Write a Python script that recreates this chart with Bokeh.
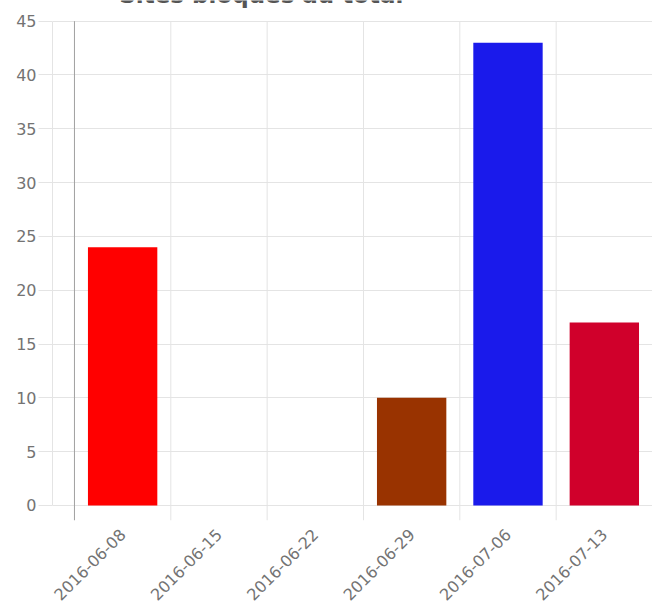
from bokeh.plotting import figure
from bokeh.models import Range1d, FixedTicker, Label, ColumnDataSource
from bokeh.embed import file_html
from bokeh.resources import INLINE
import math

# Weekly totals of blocked sites
weeks = ["2016-06-08", "2016-06-15", "2016-06-22", "2016-06-29", "2016-07-06", "2016-07-13"]
blocked = [24, 0, 0, 10, 43, 17]
bar_colors = ["#ff0000", "#ff0000", "#ff0000", "#993300", "#1a1aeb", "#d0002b"]
y_ticks = [0, 5, 10, 15, 20, 25, 30, 35, 40, 45]

FONT = "DejaVu Sans"
LABEL_GREY = "#737373"
GRID_GREY = "#e4e4e4"

Y_MIN, Y_MAX = -1.4, 45
n = len(weeks)
centers = [i + 0.5 for i in range(n)]
bounds = list(range(n + 1))
source = ColumnDataSource(dict(x=centers, top=blocked, color=bar_colors, week=weeks))

p = figure(
    width=652, height=608,
    x_range=Range1d(-0.228, 6.0),
    y_range=Range1d(Y_MIN, 46.92),
    output_backend="svg", toolbar_location=None,
    min_border_left=52, min_border_right=0, min_border_top=0, min_border_bottom=88,
)
p.outline_line_color = None
p.background_fill_color = "white"
p.border_fill_color = "white"

# week boundaries: vertical rules from the bottom edge up to the top tick
p.segment(x0=bounds[1:], y0=[Y_MIN] * n, x1=bounds[1:], y1=[Y_MAX] * n,
          line_color=GRID_GREY, line_width=1)
p.segment(x0=[0], y0=[Y_MIN], x1=[0], y1=[Y_MAX], line_color="#a0a0a0", line_width=1)

p.vbar(x="x", top="top", bottom=0, width=0.72, fill_color="color", line_color=None, source=source)

# x axis: week labels under each bar, no line or ticks
p.xaxis.ticker = FixedTicker(ticks=centers)
p.xaxis.major_label_overrides = {c: w for c, w in zip(centers, weeks)}
p.xaxis.major_label_orientation = math.pi / 4
p.xaxis.axis_line_color = None
p.xaxis.major_tick_line_color = None
p.xaxis.minor_tick_line_color = None
p.xaxis.major_label_text_font = FONT
p.xaxis.major_label_text_font_size = "16px"
p.xaxis.major_label_text_color = LABEL_GREY
p.xaxis.major_label_standoff = 5
p.xgrid.grid_line_color = None

# y axis
p.yaxis.ticker = FixedTicker(ticks=y_ticks)
p.yaxis.bounds = (0, Y_MAX)
p.yaxis.axis_line_color = GRID_GREY
p.yaxis.major_tick_line_color = GRID_GREY
p.yaxis.major_tick_out = 14
p.yaxis.major_tick_in = 0
p.yaxis.minor_tick_line_color = None
p.yaxis.major_label_standoff = 2
p.yaxis.major_label_text_font = FONT
p.yaxis.major_label_text_font_size = "16px"
p.yaxis.major_label_text_color = LABEL_GREY
p.ygrid.ticker = FixedTicker(ticks=y_ticks)
p.ygrid.grid_line_color = GRID_GREY

title = Label(
    x=1.94, y=47.4,
    text="Sites bloqués au total", text_align="center", text_baseline="alphabetic",
    text_font=FONT, text_font_style="bold", text_font_size="23px", text_color="#555555",
)
p.add_layout(title)

open("out.html", "w").write(file_html(p, INLINE))
